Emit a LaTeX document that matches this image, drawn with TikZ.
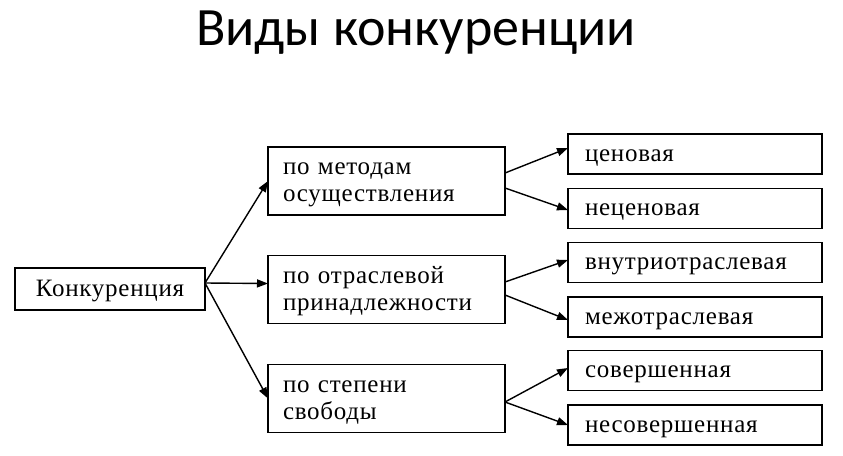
\documentclass[tikz,border=0pt]{standalone}
\usepackage{fontspec}
\setmainfont{Liberation Serif}[LetterSpace=3]
\newfontfamily\titlefont{Carlito}
\usetikzlibrary{arrows.meta}
\begin{document}
\begin{tikzpicture}[x=1pt,y=-1pt,
  box/.style={draw,line width=1.6pt,outer sep=0pt,inner ysep=0pt,align=left,
    text height=14pt,text depth=0pt,font=\fontsize{25}{27}\selectfont},
  kbox/.style={box,minimum width=190pt,minimum height=42pt,inner xsep=0pt,align=center,text width=190pt},
  midbox/.style={box,text depth=27pt,minimum height=68pt,inner xsep=15pt,text width=207pt},
  leafbox/.style={box,minimum height=40pt,inner xsep=17pt,text width=220pt},
  arr/.style={line width=1.4pt,-{Triangle[length=11pt,width=8pt]}}]
\useasboundingbox (0,0) rectangle (843,455);
\node[font=\titlefont\fontsize{54}{58}\selectfont,anchor=base] (title) at (416,45) {Виды конкуренции};
\node[kbox] (k) at (110,289) {Конкуренция};
\node[midbox] (m1) at (386.5,181) {по методам\\осуществления};
\node[midbox] (m2) at (386.5,289.5) {по отраслевой\\принадлежности};
\node[midbox] (m3) at (386.5,398.5) {по степени\\свободы};
\node[leafbox] (l1) at (695,154) {ценовая};
\node[leafbox] (l2) at (695,208.5) {неценовая};
\node[leafbox] (l3) at (695,262.5) {внутриотраслевая};
\node[leafbox] (l4) at (695,317) {межотраслевая};
\node[leafbox] (l5) at (695,370.5) {совершенная};
\node[leafbox] (l6) at (695,425) {несовершенная};
\draw[arr] ([yshift=6pt]k.east) -- (m1.west);
\draw[arr] ([yshift=6pt]k.east) -- ([yshift=6pt]m2.west);
\draw[arr] ([yshift=6pt]k.east) -- (m3.west);
\draw[arr] ([yshift=8pt]m1.east) -- ([yshift=6pt]l1.west);
\draw[arr] ([yshift=-7pt]m1.east) -- ([yshift=-1.5pt]l2.west);
\draw[arr] ([yshift=7.5pt]m2.east) -- ([yshift=2.5pt]l3.west);
\draw[arr] ([yshift=-5.5pt]m2.east) -- ([yshift=-3pt]l4.west);
\draw[arr] ([yshift=-3.5pt]m3.east) -- ([yshift=2.5pt]l5.west);
\draw[arr] ([yshift=-3.5pt]m3.east) -- (l6.west);
\end{tikzpicture}
\end{document}
